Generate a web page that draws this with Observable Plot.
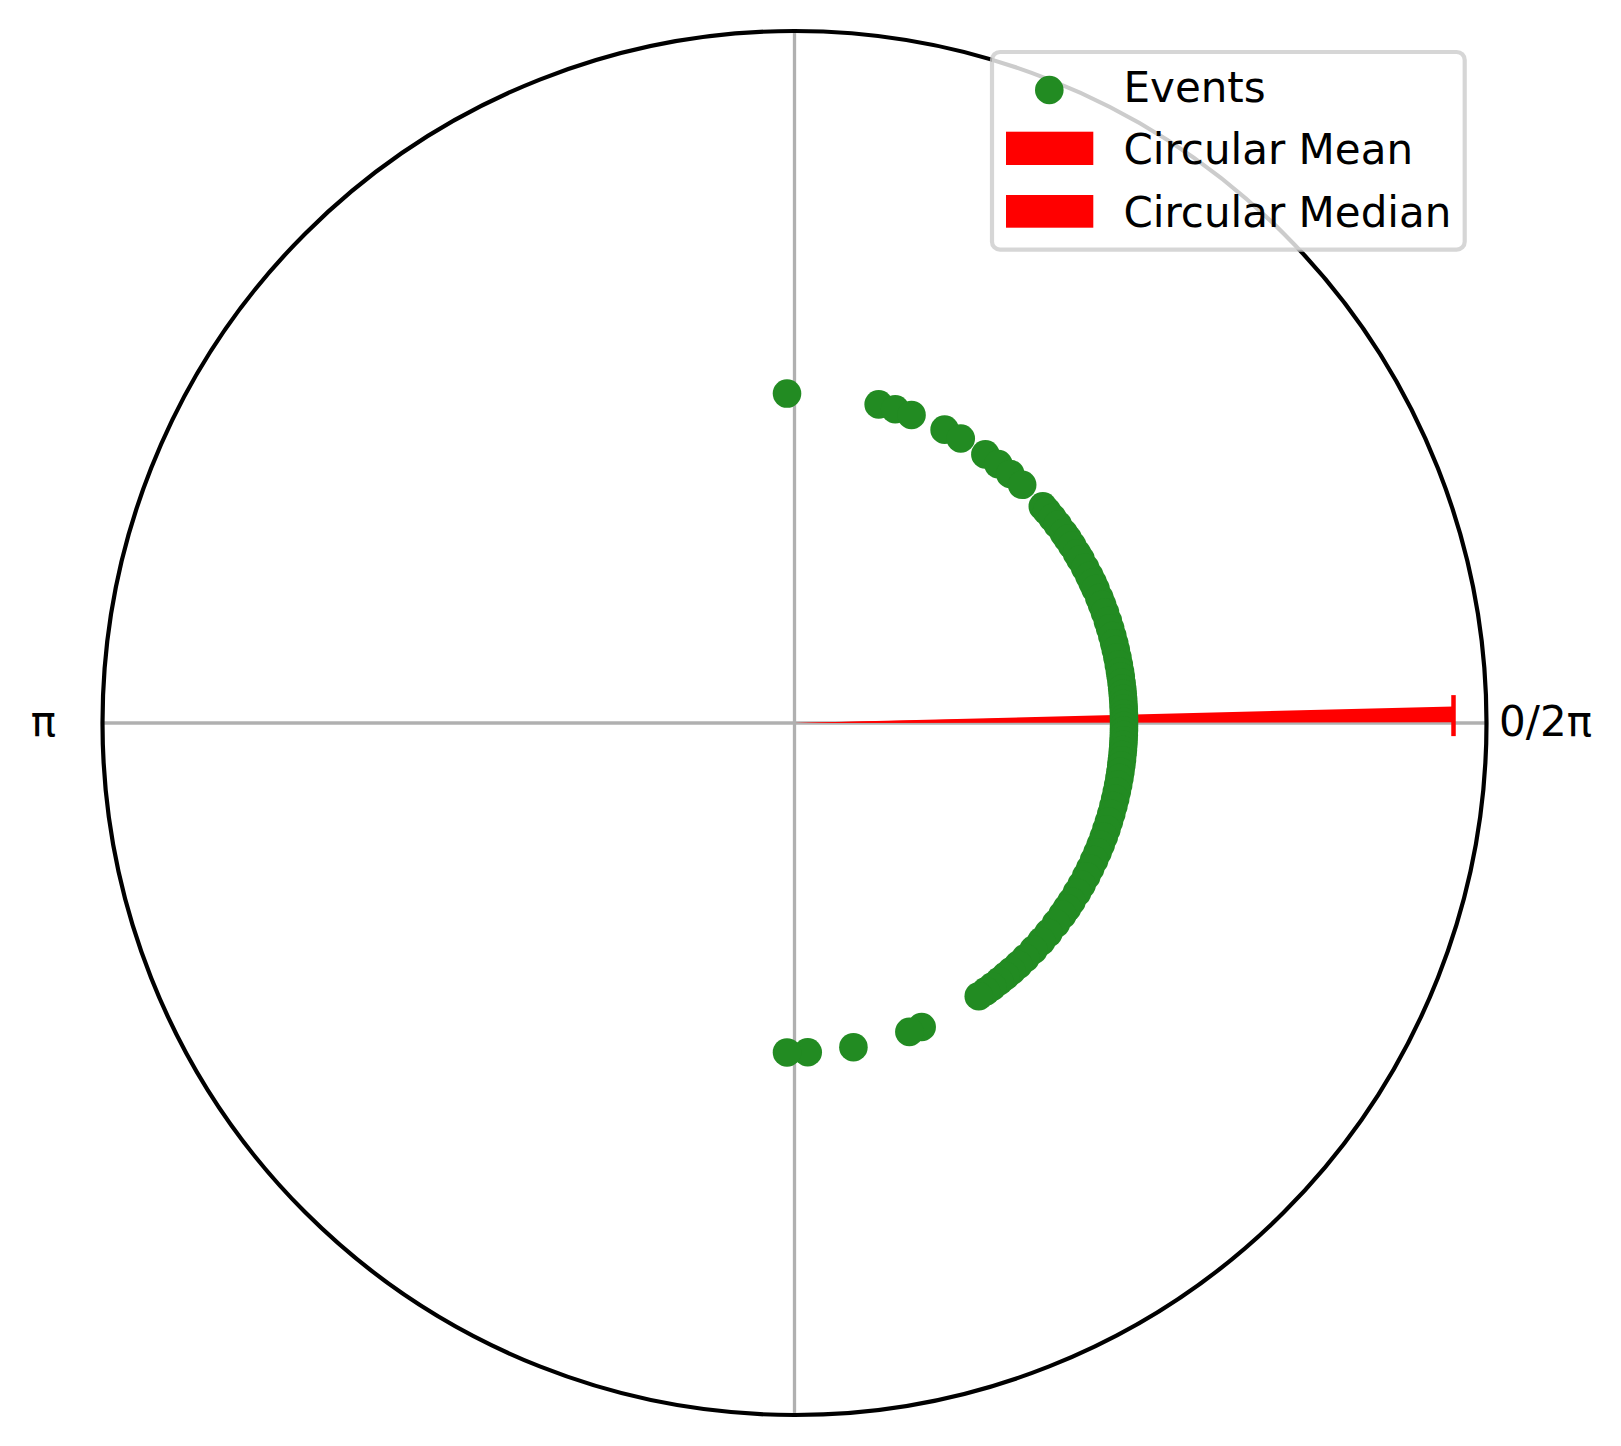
<!DOCTYPE html>
<html>
<head>
<meta charset="utf-8">
<script src="https://cdn.jsdelivr.net/npm/d3@7"></script>
<script src="https://cdn.jsdelivr.net/npm/@observablehq/plot@0.6"></script>
<style>
  html, body { margin: 0; padding: 0; background: #ffffff; }
  #chart { position: relative; width: 1621px; height: 1446px; }
  svg { display: block; }
</style>
</head>
<body>
<div id="chart"></div>
<script>
// ---------------- data ----------------
const R_MAX = 2.1;                // radial axis limit
const EVENT_RADIUS = 1;           // events are plotted on the unit circle
// event angles in degrees
const eventAnglesDeg = [
  91.3, 75.2, 72.2, 69.2, 62.9, 59.7, 54.6, 51.8, 49.1, 46.3,
  41.1, 40.0, 38.5, 37.0, 35.2, 34.0, 32.6, 31.0, 29.8, 28.1,
  26.5, 25.2, 24.0, 22.3, 21.0, 19.6, 18.0, 16.7, 15.3, 14.0,
  12.8, 11.5, 10.2, 9.0, 8.1, 7.0, 6.0, 5.1, 4.2, 3.3,
  2.5, 1.6, 0.8, 0.2,
  -0.5, -1.3, -2.1, -3.0, -3.8, -4.7, -5.6, -6.5, -7.4, -8.5,
  -9.6, -10.8, -12.0, -13.3, -14.6, -16.0, -17.4, -18.8, -20.2, -21.7,
  -23.1, -24.6, -26.2, -27.7, -29.4, -31.0, -32.8, -34.2, -35.6, -37.5,
  -39.6, -41.5, -43.5, -45.5, -47.2, -48.8, -50.2, -51.6, -53.1, -54.5,
  -56.0, -67.3, -69.6, -79.7, -87.7, -91.3
];
// summary bars (radians)
const barNames   = ["Circular Mean", "Circular Median"];
const barThetas  = [0.0112, 0.0150];
const barHeights = [2, 2];
const barWidths  = [0.02, 0.02];
// angular tick labels
const tickThetas = [0, Math.PI];
const tickLabels = ["0/2π", "π"];
const legendLabels = ["Events", "Circular Mean", "Circular Median"];

// ---------------- layout ----------------
const W = 1621, H = 1446;
const CX = 794, CY = 722.5, RADIUS_PX = 692;
const k = RADIUS_PX / R_MAX;
const xDomain = [-CX / k, (W - CX) / k];
const yDomain = [-(H - CY) / k, CY / k];

const GREEN = "#228b22", RED = "#ff0000";
const FONT = "DejaVu Sans";

const events = eventAnglesDeg.map(a => {
  const t = a * Math.PI / 180;
  return {theta: t, x: EVENT_RADIUS * Math.cos(t), y: EVENT_RADIUS * Math.sin(t)};
});

const wedgePts = barNames.flatMap((name, i) => {
  const t0 = barThetas[i] - barWidths[i] / 2, t1 = barThetas[i] + barWidths[i] / 2, h = barHeights[i];
  return [
    {series: name, x: 0, y: 0},
    {series: name, x: h * Math.cos(t0), y: h * Math.sin(t0)},
    {series: name, x: h * Math.cos(t1), y: h * Math.sin(t1)}
  ];
});

const cap = [{x: barHeights[0] * Math.cos(barThetas[0]), y: barHeights[0] * Math.sin(barThetas[0])}];

const labelR = R_MAX * (1 + 59 / RADIUS_PX);
const ticks = tickThetas.map((t, i) => ({x: labelR * Math.cos(t), y: labelR * Math.sin(t), label: tickLabels[i]}));

const vbar = {
  draw(context, size) {
    const h = Math.sqrt(size / Math.PI);
    context.moveTo(0, -h);
    context.lineTo(0, h);
  }
};

const plot = Plot.plot({
  width: W,
  height: H,
  margin: 0,
  x: {domain: xDomain, axis: null},
  y: {domain: yDomain, axis: null},
  style: {fontFamily: FONT, background: "#ffffff"},
  marks: [
    Plot.ruleY([0], {x1: -R_MAX, x2: R_MAX, stroke: "#b0b0b0", strokeWidth: 3.3}),
    Plot.ruleX([0], {y1: -R_MAX, y2: R_MAX, stroke: "#b0b0b0", strokeWidth: 3.3}),
    Plot.line(wedgePts, {x: "x", y: "y", z: "series", fill: RED, stroke: "none", curve: "linear-closed"}),
    Plot.dot(cap, {x: "x", y: "y", r: 20.5, symbol: vbar, stroke: RED, strokeWidth: 4.5, fill: "none"}),
    Plot.dot(events, {x: "x", y: "y", r: 14.3, fill: GREEN, stroke: "none"}),
    Plot.dot([0], {x: () => 0, y: () => 0, r: RADIUS_PX, fill: "none", stroke: "#000000", strokeWidth: 4.2}),
    Plot.text(ticks, {x: "x", y: "y", text: "label", fontSize: 42, fill: "#000000", textAnchor: "middle", lineAnchor: "middle"})
  ]
});

document.getElementById("chart").appendChild(plot);

// ---------------- legend (inside the plot area, upper right) ----------------
const svg = d3.select(plot);
const lg = svg.append("g").attr("font-family", FONT).attr("text-anchor", "start");
lg.append("rect")
  .attr("x", 992).attr("y", 52).attr("width", 472.7).attr("height", 197.7)
  .attr("rx", 8).attr("ry", 8)
  .attr("fill", "#ffffff").attr("fill-opacity", 0.8)
  .attr("stroke", "#cccccc").attr("stroke-opacity", 0.8).attr("stroke-width", 4.2);
lg.append("circle").attr("cx", 1049.3).attr("cy", 90).attr("r", 14.3).attr("fill", GREEN);
lg.append("rect").attr("x", 1006).attr("y", 131.7).attr("width", 87.3).attr("height", 33.3).attr("fill", RED);
lg.append("rect").attr("x", 1006).attr("y", 195).attr("width", 87.3).attr("height", 32.7).attr("fill", RED);
const baselines = [101.7, 163.5, 226.5];
legendLabels.forEach((t, i) => {
  lg.append("text").attr("x", 1123.5).attr("y", baselines[i])
    .attr("text-anchor", "start")
    .attr("font-size", 42).attr("fill", "#000000").text(t);
});
</script>
</body>
</html>
